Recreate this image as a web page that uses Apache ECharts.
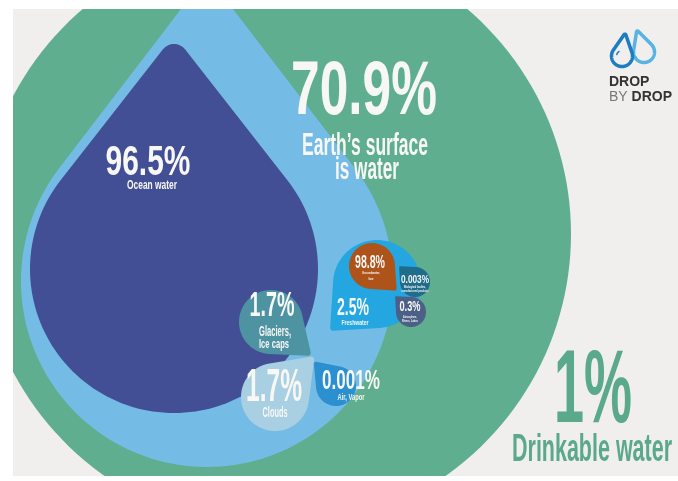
<!DOCTYPE html>
<html>
<head>
<meta charset="utf-8">
<script src="https://cdn.jsdelivr.net/npm/echarts@6/dist/echarts.min.js"></script>
<style>
html, body { margin: 0; padding: 0; background: #fff; }
#main { width: 678px; height: 481px; }
</style>
</head>
<body>
<div id="main"></div>
<script>
var surfaceShare = 70.9;
var surfaceText = "Earth\u2019s surface\nis water";
var waterNames = ['Ocean water', 'Glaciers,\nIce caps', 'Clouds', 'Air, Vapor', 'Freshwater'];
var waterShares = [96.5, 1.7, 1.7, 0.001, 2.5];
var freshNames = ['Groundwater,\nIce', 'Biological bodies,\nmanufactured products', 'Atmosphere,\nRivers, Lakes'];
var freshShares = [98.8, 0.003, 0.3];
var drinkableShare = 1;
var drinkableText = 'Drinkable water';

// --- layout (page pixels): cx, cy, radius, tip angle, tip distance, tip rounding ---
var dropLayout = [
    [275, 234, 296, 0, 0, 0],        // earth
    [207, 281, 186, -90, 273, 20],   // all water
    [174, 269, 144, -90, 211, 14],   // ocean
    [271, 322, 32, 40, 48, 3],       // glaciers
    [275, 397, 34, -46, 52, 3],      // clouds
    [336, 386, 20, -132, 30, 2],     // air
    [377, 284, 44, 135, 62, 3],      // freshwater
    [372, 266, 23, 45, 32, 2],       // groundwater
    [415, 282, 15, -135, 21, 1],     // biological
    [411, 312, 15, -135, 21, 1]      // atmosphere
];
var dropColors = ['#5fae8f', '#74bce6', '#434f94', '#4d93a2', '#a9cfe2', '#2b8fd0',
    '#24a7e1', '#ae531a', '#1f6d8b', '#4c5f86'];

// text lines: center x, cap middle y, cap height, width
var labelLayout = [
    [364, 93, 54, 146], [365, 147, 22, 126], [367, 171, 22, 64],
    [148, 163, 30, 85], [152, 186, 9, 50],
    [272, 306, 25, 45], [275, 332, 10, 32], [274, 345, 9, 30],
    [274, 388, 33, 56], [275, 413, 10, 25],
    [351, 381, 20, 58], [351, 397, 7, 27],
    [353, 308, 17, 32], [355, 323, 5.5, 27],
    [370, 263, 13, 30], [371, 273, 3, 18], [371, 279, 3, 5],
    [415, 280, 8, 28], [415, 287, 2.5, 22], [415, 291, 2.5, 27],
    [410, 307, 11, 21], [410, 317, 2.5, 14], [410, 321, 2.5, 16],
    [593, 393, 74, 78], [592, 450, 28, 160]
];

function pct(v) { return v + '%'; }
var lines = [];
function addBlock(t) { t.split('\n').forEach(function (s) { lines.push(s); }); }
addBlock(pct(surfaceShare)); addBlock(surfaceText);
for (var i = 0; i < waterShares.length; i++) { addBlock(pct(waterShares[i])); addBlock(waterNames[i]); }
for (i = 0; i < freshShares.length; i++) { addBlock(pct(freshShares[i])); addBlock(freshNames[i]); }
addBlock(pct(drinkableShare)); addBlock(drinkableText);
var lineColors = lines.map(function (s, k) { return k >= 23 ? '#5aa98a' : '#f7f7f5'; });

function dropPoints(cx, cy, R, angDeg, D, rt) {
    var pts = [], a = angDeg * Math.PI / 180, j, t;
    if (!D) {
        for (j = 0; j < 180; j++) { t = j / 180 * 2 * Math.PI; pts.push([cx + R * Math.cos(t), cy + R * Math.sin(t)]); }
        return pts;
    }
    var th = Math.acos((R - rt) / D);
    var tx = cx + D * Math.cos(a), ty = cy + D * Math.sin(a);
    for (j = 0; j <= 120; j++) {
        t = a + th + (2 * Math.PI - 2 * th) * j / 120;
        pts.push([cx + R * Math.cos(t), cy + R * Math.sin(t)]);
    }
    if (rt > 0) {
        for (j = 0; j <= 16; j++) { t = a - th + 2 * th * j / 16; pts.push([tx + rt * Math.cos(t), ty + rt * Math.sin(t)]); }
    } else {
        pts.push([tx, ty]);
    }
    return pts;
}

var measureCtx = document.createElement('canvas').getContext('2d');
var FONT = '"Liberation Sans", Arial, sans-serif';

var myChart = echarts.init(document.getElementById('main'));
var option = {
    animation: false,
    backgroundColor: '#ffffff',
    grid: { left: 13, right: 0, top: 9, bottom: 5, show: true, backgroundColor: '#f1efed', borderWidth: 0 },
    xAxis: { type: 'value', min: 13, max: 678, show: false },
    yAxis: { type: 'value', min: 9, max: 476, inverse: true, show: false },
    graphic: [
        { type: 'polygon', shape: { points: dropPoints(644, 52, 10.5, -108, 21, 1) }, style: { fill: 'none', stroke: '#56b3e3', lineWidth: 3.5 } },
        { type: 'polygon', shape: { points: dropPoints(622, 56, 10.5, -82, 21, 1) }, style: { fill: '#f1efed', stroke: '#1e7cc0', lineWidth: 3.5 } },
        { type: 'arc', shape: { cx: 622, cy: 56, r: 5.5, startAngle: Math.PI * 1.05, endAngle: Math.PI * 1.35 }, style: { stroke: '#1e7cc0', lineWidth: 1.5, fill: 'none' } },
        { type: 'text', x: 609, y: 82, style: { text: 'DROP', font: 'bold 14px ' + FONT, fill: '#333333', verticalAlign: 'middle', textVerticalAlign: 'middle' } },
        { type: 'text', x: 609, y: 97, style: { text: '{a|BY }{b|DROP}', verticalAlign: 'middle', textVerticalAlign: 'middle',
            rich: { a: { font: '14px ' + FONT, fill: '#777777', color: '#777777' }, b: { font: 'bold 14px ' + FONT, fill: '#333333', color: '#333333' } } } }
    ],
    series: [
        {
            type: 'custom',
            clip: true,
            data: dropLayout,
            encode: { x: 0, y: 1 },
            renderItem: function (params, api) {
                var c = api.coord([api.value(0), api.value(1)]);
                var k = api.size([1, 1])[0];
                return {
                    type: 'polygon',
                    shape: { points: dropPoints(c[0], c[1], api.value(2) * k, api.value(3), api.value(4) * k, api.value(5) * k) },
                    style: { fill: dropColors[params.dataIndex] }
                };
            }
        },
        {
            type: 'custom',
            clip: false,
            data: labelLayout,
            encode: { x: 0, y: 1 },
            renderItem: function (params, api) {
                var c = api.coord([api.value(0), api.value(1)]);
                var idx = params.dataIndex;
                var fs = api.value(2) / 0.716;
                var font = 'bold ' + fs + 'px ' + FONT;
                measureCtx.font = font;
                var w = measureCtx.measureText(lines[idx]).width;
                return {
                    type: 'text',
                    x: c[0], y: c[1],
                    scaleX: api.value(3) / w,
                    style: {
                        text: lines[idx], font: font, fill: lineColors[idx],
                        align: 'center', verticalAlign: 'middle',
                        textAlign: 'center', textVerticalAlign: 'middle'
                    }
                };
            }
        }
    ]
};
myChart.setOption(option);
</script>
</body>
</html>
